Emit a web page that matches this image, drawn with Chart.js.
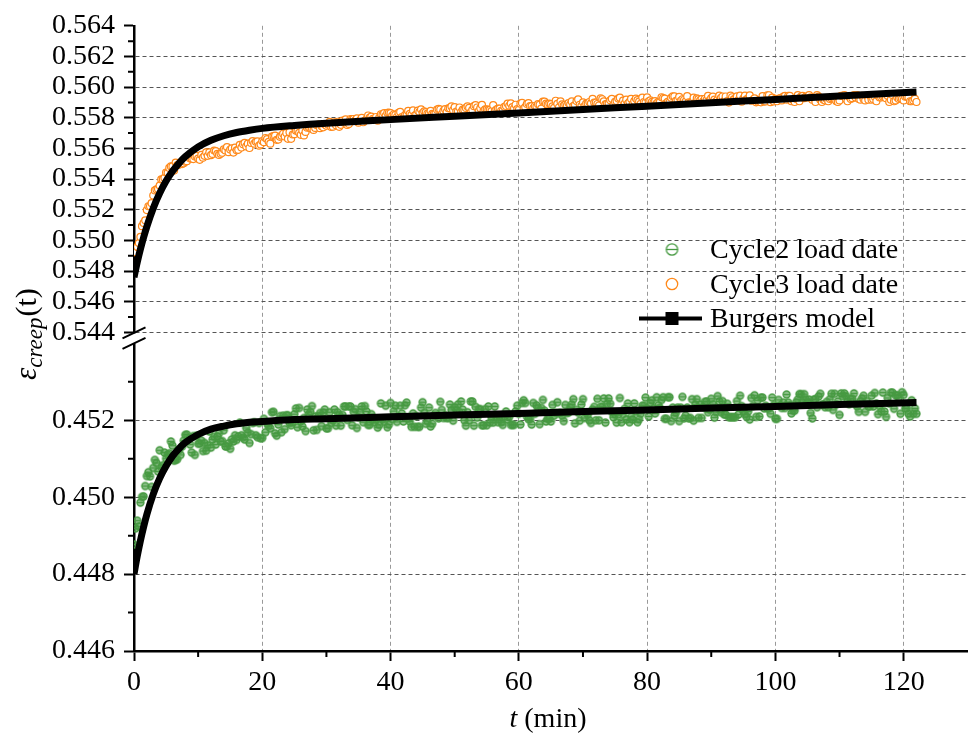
<!DOCTYPE html>
<html>
<head>
<meta charset="utf-8">
<script src="https://cdn.jsdelivr.net/npm/chart.js@4.4.0/dist/chart.umd.min.js"></script>
<style>
  html, body { margin: 0; padding: 0; background: #fff; }
  #wrap { width: 973px; height: 734px; }
</style>
</head>
<body>
<div id="wrap"><canvas id="creepChart" width="973" height="734"></canvas></div>
<script>
// ===============================
// Data
// ===============================

// Logged sample times (min), shared by both load cycles
const sampleTimes = [
  0,0.25,0.5,0.75,1,1.25,1.5,1.75,2,2.25,2.5,2.75,3,3.25,3.5,3.75,4,4.25,4.5,4.75,
  5,5.25,5.5,5.75,6,6.25,6.5,6.75,7,7.25,7.5,7.75,8,8.25,8.5,8.75,9,9.25,9.5,9.75,
  10,10.25,10.5,10.75,11,11.25,11.5,11.75,12,12.25,12.5,12.75,13,13.25,13.5,13.75,14,14.25,14.5,14.75,
  15,15.25,15.5,15.75,16,16.25,16.5,16.75,17,17.25,17.5,17.75,18,18.25,18.5,18.75,19,19.25,19.5,19.75,
  20,20.25,20.5,20.75,21,21.25,21.5,21.75,22,22.25,22.5,22.75,23,23.25,23.5,23.75,24,24.25,24.5,24.75,
  25,25.25,25.5,25.75,26,26.25,26.5,26.75,27,27.25,27.5,27.75,28,28.25,28.5,28.75,29,29.25,29.5,29.75,
  30,30.25,30.5,30.75,31,31.25,31.5,31.75,32,32.25,32.5,32.75,33,33.25,33.5,33.75,34,34.25,34.5,34.75,
  35,35.25,35.5,35.75,36,36.25,36.5,36.75,37,37.25,37.5,37.75,38,38.25,38.5,38.75,39,39.25,39.5,39.75,
  40,40.25,40.5,40.75,41,41.25,41.5,41.75,42,42.25,42.5,42.75,43,43.25,43.5,43.75,44,44.25,44.5,44.75,
  45,45.25,45.5,45.75,46,46.25,46.5,46.75,47,47.25,47.5,47.75,48,48.25,48.5,48.75,49,49.25,49.5,49.75,
  50,50.25,50.5,50.75,51,51.25,51.5,51.75,52,52.25,52.5,52.75,53,53.25,53.5,53.75,54,54.25,54.5,54.75,
  55,55.25,55.5,55.75,56,56.25,56.5,56.75,57,57.25,57.5,57.75,58,58.25,58.5,58.75,59,59.25,59.5,59.75,
  60,60.25,60.5,60.75,61,61.25,61.5,61.75,62,62.25,62.5,62.75,63,63.25,63.5,63.75,64,64.25,64.5,64.75,
  65,65.25,65.5,65.75,66,66.25,66.5,66.75,67,67.25,67.5,67.75,68,68.25,68.5,68.75,69,69.25,69.5,69.75,
  70,70.25,70.5,70.75,71,71.25,71.5,71.75,72,72.25,72.5,72.75,73,73.25,73.5,73.75,74,74.25,74.5,74.75,
  75,75.25,75.5,75.75,76,76.25,76.5,76.75,77,77.25,77.5,77.75,78,78.25,78.5,78.75,79,79.25,79.5,79.75,
  80,80.25,80.5,80.75,81,81.25,81.5,81.75,82,82.25,82.5,82.75,83,83.25,83.5,83.75,84,84.25,84.5,84.75,
  85,85.25,85.5,85.75,86,86.25,86.5,86.75,87,87.25,87.5,87.75,88,88.25,88.5,88.75,89,89.25,89.5,89.75,
  90,90.25,90.5,90.75,91,91.25,91.5,91.75,92,92.25,92.5,92.75,93,93.25,93.5,93.75,94,94.25,94.5,94.75,
  95,95.25,95.5,95.75,96,96.25,96.5,96.75,97,97.25,97.5,97.75,98,98.25,98.5,98.75,99,99.25,99.5,99.75,
  100,100.25,100.5,100.75,101,101.25,101.5,101.75,102,102.25,102.5,102.75,103,103.25,103.5,103.75,104,104.25,104.5,104.75,
  105,105.25,105.5,105.75,106,106.25,106.5,106.75,107,107.25,107.5,107.75,108,108.25,108.5,108.75,109,109.25,109.5,109.75,
  110,110.25,110.5,110.75,111,111.25,111.5,111.75,112,112.25,112.5,112.75,113,113.25,113.5,113.75,114,114.25,114.5,114.75,
  115,115.25,115.5,115.75,116,116.25,116.5,116.75,117,117.25,117.5,117.75,118,118.25,118.5,118.75,119,119.25,119.5,119.75,
  120,120.25,120.5,120.75,121,121.25,121.5,121.75,122
];

// Cycle 2 measured creep strain (lower panel)
const cycle2Strain = [
  0.44877,0.44919,0.44939,0.44924,0.44986,0.45001,0.45002,0.45029,0.45055,0.45065,
  0.45054,0.45027,0.45076,0.45097,0.45089,0.45067,0.45122,0.45078,0.45083,0.45116,
  0.45100,0.45111,0.45114,0.45145,0.45134,0.45095,0.45097,0.45099,0.45122,0.45110,
  0.45132,0.45147,0.45162,0.45163,0.45150,0.45137,0.45116,0.45159,0.45110,0.45160,
  0.45139,0.45140,0.45147,0.45120,0.45141,0.45121,0.45135,0.45171,0.45129,0.45150,
  0.45157,0.45137,0.45158,0.45166,0.45145,0.45146,0.45174,0.45132,0.45132,0.45140,
  0.45126,0.45150,0.45145,0.45161,0.45149,0.45158,0.45194,0.45161,0.45155,0.45150,
  0.45180,0.45168,0.45141,0.45164,0.45193,0.45195,0.45161,0.45156,0.45193,0.45153,
  0.45154,0.45204,0.45169,0.45191,0.45185,0.45179,0.45221,0.45222,0.45166,0.45160,
  0.45189,0.45211,0.45169,0.45212,0.45177,0.45213,0.45213,0.45193,0.45187,0.45195,
  0.45216,0.45231,0.45182,0.45232,0.45197,0.45184,0.45206,0.45172,0.45228,0.45215,
  0.45222,0.45237,0.45174,0.45210,0.45175,0.45211,0.45219,0.45185,0.45220,0.45228,
  0.45179,0.45179,0.45221,0.45193,0.45200,0.45228,0.45186,0.45221,0.45214,0.45186,
  0.45214,0.45236,0.45236,0.45201,0.45236,0.45236,0.45187,0.45222,0.45229,0.45180,
  0.45208,0.45222,0.45236,0.45195,0.45237,0.45223,0.45188,0.45188,0.45216,0.45202,
  0.45195,0.45202,0.45181,0.45188,0.45244,0.45203,0.45196,0.45238,0.45182,0.45189,
  0.45245,0.45203,0.45224,0.45238,0.45196,0.45210,0.45238,0.45218,0.45197,0.45239,
  0.45246,0.45204,0.45197,0.45183,0.45218,0.45183,0.45211,0.45183,0.45183,0.45233,
  0.45247,0.45219,0.45191,0.45198,0.45233,0.45184,0.45191,0.45212,0.45219,0.45212,
  0.45205,0.45248,0.45227,0.45206,0.45213,0.45206,0.45206,0.45241,0.45227,0.45199,
  0.45234,0.45227,0.45241,0.45221,0.45249,0.45228,0.45200,0.45186,0.45221,0.45200,
  0.45249,0.45249,0.45186,0.45235,0.45207,0.45229,0.45229,0.45187,0.45187,0.45229,
  0.45187,0.45236,0.45194,0.45208,0.45194,0.45236,0.45208,0.45195,0.45209,0.45195,
  0.45188,0.45209,0.45223,0.45202,0.45209,0.45188,0.45188,0.45188,0.45223,0.45238,
  0.45217,0.45189,0.45245,0.45252,0.45245,0.45210,0.45203,0.45203,0.45189,0.45245,
  0.45217,0.45239,0.45232,0.45190,0.45232,0.45253,0.45225,0.45197,0.45204,0.45204,
  0.45197,0.45240,0.45212,0.45219,0.45247,0.45219,0.45219,0.45212,0.45198,0.45240,
  0.45219,0.45220,0.45234,0.45241,0.45255,0.45192,0.45227,0.45220,0.45199,0.45241,
  0.45255,0.45206,0.45220,0.45214,0.45200,0.45193,0.45228,0.45235,0.45200,0.45256,
  0.45200,0.45235,0.45235,0.45257,0.45194,0.45243,0.45257,0.45243,0.45222,0.45208,
  0.45215,0.45194,0.45215,0.45258,0.45195,0.45216,0.45230,0.45202,0.45244,0.45195,
  0.45209,0.45202,0.45244,0.45223,0.45195,0.45203,0.45217,0.45238,0.45238,0.45259,
  0.45231,0.45210,0.45245,0.45252,0.45231,0.45218,0.45260,0.45239,0.45232,0.45253,
  0.45260,0.45204,0.45204,0.45260,0.45260,0.45198,0.45233,0.45212,0.45219,0.45233,
  0.45198,0.45233,0.45261,0.45205,0.45212,0.45233,0.45205,0.45206,0.45255,0.45199,
  0.45241,0.45255,0.45206,0.45241,0.45206,0.45234,0.45248,0.45249,0.45221,0.45228,
  0.45256,0.45242,0.45207,0.45221,0.45263,0.45249,0.45221,0.45250,0.45215,0.45215,
  0.45243,0.45208,0.45208,0.45208,0.45208,0.45208,0.45250,0.45215,0.45264,0.45237,
  0.45223,0.45216,0.45209,0.45223,0.45202,0.45258,0.45237,0.45265,0.45209,0.45252,
  0.45210,0.45259,0.45259,0.45231,0.45238,0.45231,0.45231,0.45217,0.45259,0.45239,
  0.45204,0.45204,0.45253,0.45239,0.45232,0.45246,0.45232,0.45267,0.45246,0.45239,
  0.45218,0.45225,0.45225,0.45247,0.45254,0.45268,0.45268,0.45247,0.45268,0.45254,
  0.45247,0.45254,0.45219,0.45205,0.45254,0.45255,0.45234,0.45262,0.45269,0.45241,
  0.45241,0.45234,0.45248,0.45234,0.45255,0.45269,0.45227,0.45269,0.45241,0.45249,
  0.45214,0.45270,0.45263,0.45270,0.45263,0.45249,0.45242,0.45256,0.45256,0.45270,
  0.45242,0.45236,0.45222,0.45250,0.45257,0.45264,0.45222,0.45250,0.45236,0.45236,
  0.45264,0.45236,0.45271,0.45244,0.45216,0.45237,0.45223,0.45272,0.45223,0.45209,
  0.45258,0.45244,0.45272,0.45272,0.45230,0.45265,0.45265,0.45259,0.45217,0.45273,
  0.45266,0.45231,0.45231,0.45217,0.45210,0.45252,0.45217,0.45231,0.45217
];

// Cycle 3 measured creep strain (upper panel)
const cycle3Strain = [
  0.54843,0.54923,0.54958,0.54983,0.55023,0.55093,0.55113,0.55131,0.55198,0.55223,
  0.55223,0.55243,0.55293,0.55326,0.55333,0.55336,0.55358,0.55398,0.55398,0.55408,
  0.55443,0.55441,0.55473,0.55483,0.55483,0.55456,0.55508,0.55491,0.55493,0.55508,
  0.55498,0.55503,0.55513,0.55517,0.55546,0.55535,0.55533,0.55531,0.55548,0.55551,
  0.55533,0.55526,0.55558,0.55540,0.55552,0.55575,0.55552,0.55574,0.55556,0.55564,
  0.55586,0.55583,0.55565,0.55558,0.55565,0.55572,0.55594,0.55587,0.55609,0.55576,
  0.55593,0.55601,0.55573,0.55606,0.55588,0.55591,0.55623,0.55606,0.55628,0.55636,
  0.55613,0.55631,0.55603,0.55636,0.55648,0.55631,0.55643,0.55646,0.55618,0.55626,
  0.55648,0.55641,0.55668,0.55661,0.55643,0.55631,0.55678,0.55681,0.55683,0.55656,
  0.55658,0.55676,0.55683,0.55696,0.55678,0.55701,0.55663,0.55706,0.55663,0.55691,
  0.55693,0.55716,0.55714,0.55702,0.55689,0.55717,0.55685,0.55708,0.55735,0.55738,
  0.55731,0.55729,0.55721,0.55734,0.55752,0.55755,0.55732,0.55745,0.55738,0.55756,
  0.55748,0.55756,0.55773,0.55740,0.55742,0.55770,0.55752,0.55774,0.55741,0.55754,
  0.55781,0.55768,0.55790,0.55753,0.55760,0.55792,0.55789,0.55792,0.55784,0.55796,
  0.55768,0.55784,0.55800,0.55771,0.55782,0.55789,0.55815,0.55801,0.55807,0.55793,
  0.55789,0.55805,0.55781,0.55802,0.55823,0.55820,0.55831,0.55812,0.55833,0.55834,
  0.55830,0.55812,0.55823,0.55819,0.55805,0.55832,0.55838,0.55804,0.55800,0.55817,
  0.55818,0.55845,0.55826,0.55817,0.55848,0.55815,0.55821,0.55847,0.55838,0.55855,
  0.55831,0.55842,0.55837,0.55828,0.55829,0.55845,0.55825,0.55826,0.55827,0.55853,
  0.55858,0.55854,0.55824,0.55845,0.55856,0.55837,0.55862,0.55863,0.55874,0.55850,
  0.55870,0.55841,0.55841,0.55867,0.55837,0.55853,0.55853,0.55864,0.55874,0.55865,
  0.55835,0.55851,0.55876,0.55882,0.55867,0.55843,0.55863,0.55884,0.55844,0.55855,
  0.55855,0.55851,0.55852,0.55843,0.55883,0.55844,0.55854,0.55860,0.55860,0.55846,
  0.55846,0.55872,0.55877,0.55893,0.55878,0.55894,0.55869,0.55860,0.55885,0.55856,
  0.55851,0.55892,0.55897,0.55858,0.55869,0.55890,0.55895,0.55876,0.55876,0.55862,
  0.55877,0.55873,0.55889,0.55885,0.55860,0.55906,0.55906,0.55892,0.55887,0.55893,
  0.55889,0.55875,0.55865,0.55911,0.55891,0.55867,0.55907,0.55888,0.55879,0.55885,
  0.55880,0.55896,0.55886,0.55907,0.55877,0.55883,0.55909,0.55920,0.55885,0.55876,
  0.55901,0.55877,0.55892,0.55893,0.55903,0.55894,0.55924,0.55899,0.55899,0.55890,
  0.55880,0.55926,0.55921,0.55907,0.55887,0.55893,0.55893,0.55914,0.55924,0.55884,
  0.55904,0.55910,0.55925,0.55931,0.55891,0.55912,0.55892,0.55918,0.55893,0.55904,
  0.55924,0.55889,0.55909,0.55925,0.55915,0.55906,0.55891,0.55932,0.55902,0.55898,
  0.55933,0.55908,0.55913,0.55904,0.55899,0.55909,0.55894,0.55904,0.55904,0.55934,
  0.55929,0.55925,0.55895,0.55905,0.55900,0.55930,0.55940,0.55940,0.55910,0.55916,
  0.55936,0.55911,0.55921,0.55916,0.55906,0.55941,0.55901,0.55897,0.55902,0.55932,
  0.55897,0.55927,0.55922,0.55912,0.55922,0.55908,0.55923,0.55913,0.55943,0.55913,
  0.55928,0.55938,0.55918,0.55908,0.55919,0.55944,0.55929,0.55939,0.55909,0.55939,
  0.55909,0.55899,0.55944,0.55934,0.55920,0.55925,0.55940,0.55915,0.55945,0.55905,
  0.55925,0.55945,0.55920,0.55925,0.55946,0.55911,0.55916,0.55926,0.55901,0.55906,
  0.55916,0.55901,0.55941,0.55906,0.55907,0.55947,0.55947,0.55902,0.55932,0.55907,
  0.55923,0.55908,0.55923,0.55928,0.55913,0.55938,0.55943,0.55918,0.55943,0.55943,
  0.55908,0.55918,0.55903,0.55923,0.55948,0.55908,0.55938,0.55943,0.55928,0.55938,
  0.55933,0.55948,0.55933,0.55918,0.55928,0.55903,0.55948,0.55938,0.55918,0.55903,
  0.55918,0.55913,0.55923,0.55908,0.55923,0.55928,0.55933,0.55923,0.55908,0.55903,
  0.55913,0.55943,0.55943,0.55948,0.55923,0.55908,0.55938,0.55923,0.55928,0.55948,
  0.55933,0.55948,0.55923,0.55918,0.55943,0.55923,0.55913,0.55943,0.55918,0.55943,
  0.55918,0.55923,0.55938,0.55908,0.55943,0.55933,0.55933,0.55938,0.55938,0.55928,
  0.55943,0.55903,0.55918,0.55948,0.55908,0.55913,0.55933,0.55923,0.55928,0.55923,
  0.55913,0.55938,0.55938,0.55933,0.55908,0.55908,0.55913,0.55923,0.55903
];

// Burgers model fits
const modelTimes = [0,0.5,1,1.5,2,3,4,5,6,7,8,10,12,14,16,18,20,25,30,40,50,60,70,80,90,100,110,122];
const burgersCycle2 = [
  0.44800,0.44846,0.44887,0.44923,0.44955,0.45008,0.45049,0.45081,0.45107,0.45126,
  0.45142,0.45163,0.45177,0.45185,0.45191,0.45195,0.45197,0.45202,0.45204,0.45209,
  0.45214,0.45218,0.45223,0.45227,0.45232,0.45236,0.45241,0.45246
];
const burgersCycle3 = [
  0.54760,0.54856,0.54943,0.55020,0.55090,0.55210,0.55307,0.55387,0.55451,0.55503,
  0.55546,0.55610,0.55653,0.55683,0.55704,0.55719,0.55731,0.55750,0.55765,0.55788,
  0.55810,0.55832,0.55854,0.55876,0.55898,0.55920,0.55942,0.55968
];

// Tick values (major labelled, minor unlabelled)
const xTicks = [0, 20, 40, 60, 80, 100, 120];
const xMinorTicks = [10, 30, 50, 70, 90, 110];
const yHighTicks = [0.544, 0.546, 0.548, 0.550, 0.552, 0.554, 0.556, 0.558, 0.560, 0.562, 0.564];
const yHighMinorTicks = [0.545, 0.547, 0.549, 0.551, 0.553, 0.555, 0.557, 0.559, 0.561, 0.563];
const yLowTicks = [0.446, 0.448, 0.450, 0.452];
const yLowMinorTicks = [0.447, 0.449, 0.451, 0.453];

// ===============================
// Styling helpers
// ===============================
const serif = '"Liberation Serif", "Times New Roman", serif';
const green = '#479a42';
const orange = '#ff891a';
const fontPx = 28;

// small circle with a bar through it, used for the cycle 2 markers
function thetaMarker(r, lw, fill) {
  const size = Math.ceil(2 * r + lw + 2);
  const c = document.createElement('canvas');
  c.width = c.height = size;
  const g = c.getContext('2d');
  const m = size / 2;
  g.strokeStyle = green;
  g.lineWidth = lw;
  g.beginPath(); g.arc(m, m, r, 0, Math.PI * 2);
  if (fill) { g.fillStyle = fill; g.fill(); }
  g.stroke();
  g.beginPath(); g.moveTo(m - r, m); g.lineTo(m + r, m); g.stroke();
  return c;
}

const toPoints = (xs, ys) => ys.map((y, i) => ({ x: xs[i], y }));
const fixedTicks = list => scale => { scale.ticks = list.map(v => ({ value: v })); };

function yScale(min, max, ticks, hiddenGrid) {
  return {
    type: 'linear', position: 'left', stack: 'strain', stackWeight: 1,
    min, max,
    afterBuildTicks: fixedTicks(ticks),
    afterFit: s => { s.width = 134; },
    grid: {
      color: c => (c.tick && Math.abs(c.tick.value - hiddenGrid) < 1e-9) ? 'rgba(0,0,0,0)' : '#555',
      lineWidth: 1, tickLength: 10, tickWidth: 2, tickColor: '#000'
    },
    border: { color: '#000', width: 2.5, dash: [4, 3] },
    ticks: {
      autoSkip: false, padding: 9, color: '#000',
      font: { family: serif, size: fontPx },
      callback: v => v.toFixed(3)
    }
  };
}

// ===============================
// Extra drawing: minor ticks, axis break, titles, legend
// ===============================
const decorations = {
  id: 'decorations',
  afterDraw(chart) {
    const { ctx, chartArea, scales } = chart;
    const left = chartArea.left, bottom = chartArea.bottom;
    ctx.save();

    // minor ticks
    ctx.strokeStyle = '#000';
    ctx.lineWidth = 2;
    ctx.beginPath();
    xMinorTicks.forEach(v => {
      const px = scales.x.getPixelForValue(v);
      ctx.moveTo(px, bottom); ctx.lineTo(px, bottom + 6);
    });
    [[scales.yHigh, yHighMinorTicks], [scales.yLow, yLowMinorTicks]].forEach(([s, vals]) => {
      vals.forEach(v => {
        const py = s.getPixelForValue(v);
        ctx.moveTo(left - 6, py); ctx.lineTo(left, py);
      });
    });
    ctx.stroke();

    // axis break between the two panels
    const yb = scales.yHigh.bottom;
    ctx.fillStyle = '#fff';
    ctx.fillRect(left - 2.5, yb - 5, 5, 10);
    ctx.beginPath();
    ctx.moveTo(left - 11.5, yb + 0); ctx.lineTo(left + 11.5, yb - 11);
    ctx.moveTo(left - 11.5, yb + 10.5); ctx.lineTo(left + 11.5, yb - 0.5);
    ctx.stroke();

    // x title: italic t followed by (min)
    ctx.fillStyle = '#000';
    ctx.textBaseline = 'alphabetic';
    ctx.font = `italic ${fontPx}px ${serif}`;
    const wT = ctx.measureText('t ').width;
    ctx.font = `${fontPx}px ${serif}`;
    const wRest = ctx.measureText('(min)').width;
    const x0 = 548 - (wT + wRest) / 2;
    ctx.font = `italic ${fontPx}px ${serif}`;
    ctx.fillText('t ', x0, 727);
    ctx.font = `${fontPx}px ${serif}`;
    ctx.fillText('(min)', x0 + wT, 727);

    // y title: epsilon with subscript "creep"
    ctx.save();
    ctx.translate(36, 380);
    ctx.rotate(-Math.PI / 2);
    ctx.font = `italic 31px ${serif}`;
    ctx.fillText('\u03b5', 0, 0);
    let w = ctx.measureText('\u03b5').width;
    ctx.font = `italic 23px ${serif}`;
    ctx.fillText('creep', w, 6);
    w += ctx.measureText('creep').width + 1;
    ctx.font = `30px ${serif}`;
    ctx.fillText('(t)', w, 0);
    ctx.restore();

    // legend inside the plot
    const byLabel = l => chart.data.datasets.find(d => d.label === l);
    const rows = [byLabel('Cycle2 load date'), byLabel('Cycle3 load date'), byLabel('Burgers model')];
    const mx = 672, tx = 710;
    ctx.font = `${fontPx}px ${serif}`;
    rows.forEach((ds, i) => {
      const base = 258 + i * 34.5;
      const my = base - 8.5;
      if (i === 0) {
        ctx.drawImage(legendTheta, mx - legendTheta.width / 2, my - legendTheta.height / 2);
      } else if (i === 1) {
        ctx.strokeStyle = ds.borderColor; ctx.lineWidth = 1.3;
        ctx.beginPath(); ctx.arc(mx, my, 5.7, 0, Math.PI * 2); ctx.stroke();
      } else {
        ctx.strokeStyle = '#000'; ctx.lineWidth = 4;
        ctx.beginPath(); ctx.moveTo(639, my); ctx.lineTo(702, my); ctx.stroke();
        ctx.fillStyle = '#000';
        ctx.fillRect(mx - 6.5, my - 6.5, 13, 13);
      }
      ctx.fillStyle = '#000';
      ctx.fillText(ds.label, tx, base);
    });
    ctx.restore();
  }
};

const plotTheta = thetaMarker(3.5, 1.4, 'rgba(71,154,66,0.6)');
const legendTheta = thetaMarker(5.7, 1.3, null);

// ===============================
// Chart
// ===============================
new Chart(document.getElementById('creepChart'), {
  type: 'scatter',
  data: {
    datasets: [
      {
        label: 'Burgers model', data: toPoints(modelTimes, burgersCycle3), yAxisID: 'yHigh',
        showLine: true, borderColor: '#000', borderWidth: 7, pointRadius: 0,
        cubicInterpolationMode: 'monotone', borderCapStyle: 'butt', order: 0
      },
      {
        label: 'Burgers model', data: toPoints(modelTimes, burgersCycle2), yAxisID: 'yLow',
        showLine: true, borderColor: '#000', borderWidth: 7, pointRadius: 0,
        cubicInterpolationMode: 'monotone', borderCapStyle: 'butt', order: 0
      },
      {
        label: 'Cycle2 load date', data: toPoints(sampleTimes, cycle2Strain), yAxisID: 'yLow',
        pointStyle: plotTheta, pointRadius: 4, borderColor: green, backgroundColor: green, order: 1
      },
      {
        label: 'Cycle3 load date', data: toPoints(sampleTimes, cycle3Strain), yAxisID: 'yHigh',
        pointStyle: 'circle', pointRadius: 3.5, borderWidth: 1.2,
        borderColor: orange, backgroundColor: '#fff', order: 1
      }
    ]
  },
  options: {
    responsive: false,
    animation: false,
    devicePixelRatio: 1,
    layout: { padding: { top: 19, right: 5, left: 0, bottom: 0 } },
    plugins: { legend: { display: false }, tooltip: { enabled: false } },
    scales: {
      x: {
        type: 'linear', min: 0, max: 130,
        afterBuildTicks: fixedTicks(xTicks),
        afterFit: s => { s.height = 83; },
        grid: {
          color: c => (c.tick && c.tick.value === 0) ? 'rgba(0,0,0,0)' : '#999',
          lineWidth: 1, tickLength: 10, tickWidth: 2, tickColor: '#000'
        },
        border: { color: '#000', width: 2.5, dash: [4, 3] },
        ticks: { autoSkip: false, maxRotation: 0, padding: 5, color: '#000', font: { family: serif, size: fontPx } }
      },
      yLow: yScale(0.446, 0.45413, yLowTicks, 0.446),
      yHigh: yScale(0.54361, 0.564, yHighTicks, 0.564)
    }
  },
  plugins: [decorations]
});
</script>
</body>
</html>
